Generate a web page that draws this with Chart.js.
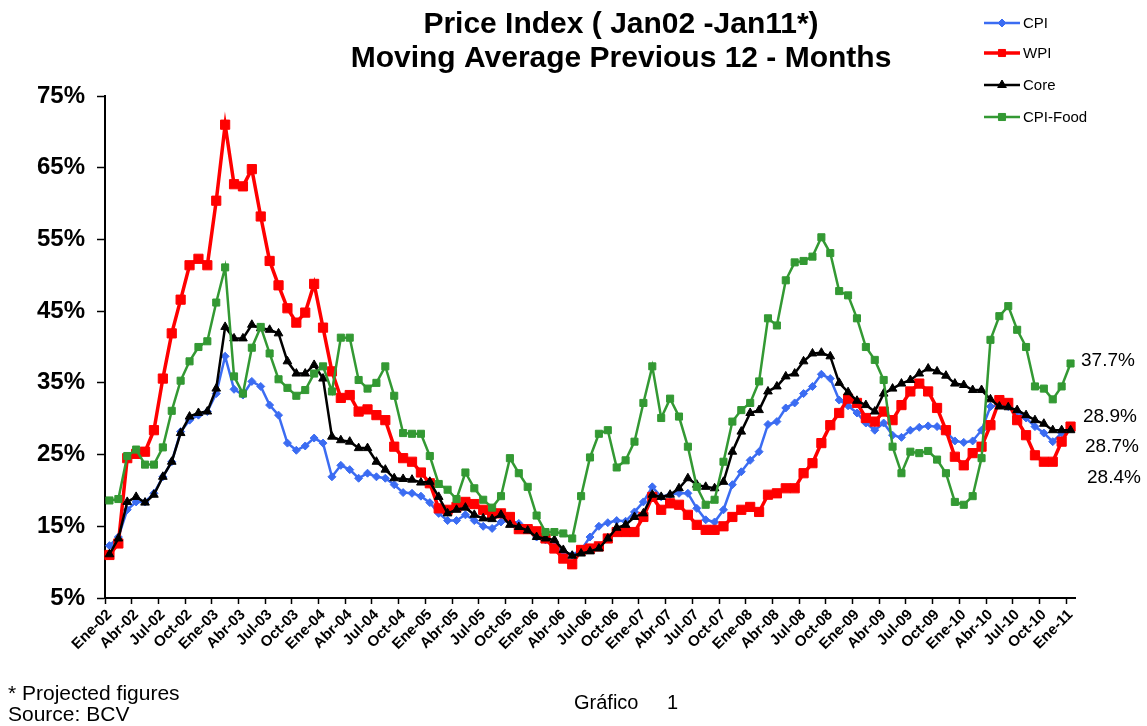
<!DOCTYPE html>
<html>
<head>
<meta charset="utf-8">
<script src="https://cdn.jsdelivr.net/npm/chart.js@4/dist/chart.umd.min.js"></script>
<style>
html,body{margin:0;padding:0;background:#ffffff;}
#wrap{width:1147px;height:726px;position:relative;}
</style>
</head>
<body>
<div id="wrap"><canvas id="c" width="1147" height="726"></canvas></div>
<script>
// ---------- DATA ----------
const categories = [
 'Ene-02','Feb-02','Mar-02','Abr-02','May-02','Jun-02','Jul-02','Ago-02','Sep-02','Oct-02','Nov-02','Dic-02',
 'Ene-03','Feb-03','Mar-03','Abr-03','May-03','Jun-03','Jul-03','Ago-03','Sep-03','Oct-03','Nov-03','Dic-03',
 'Ene-04','Feb-04','Mar-04','Abr-04','May-04','Jun-04','Jul-04','Ago-04','Sep-04','Oct-04','Nov-04','Dic-04',
 'Ene-05','Feb-05','Mar-05','Abr-05','May-05','Jun-05','Jul-05','Ago-05','Sep-05','Oct-05','Nov-05','Dic-05',
 'Ene-06','Feb-06','Mar-06','Abr-06','May-06','Jun-06','Jul-06','Ago-06','Sep-06','Oct-06','Nov-06','Dic-06',
 'Ene-07','Feb-07','Mar-07','Abr-07','May-07','Jun-07','Jul-07','Ago-07','Sep-07','Oct-07','Nov-07','Dic-07',
 'Ene-08','Feb-08','Mar-08','Abr-08','May-08','Jun-08','Jul-08','Ago-08','Sep-08','Oct-08','Nov-08','Dic-08',
 'Ene-09','Feb-09','Mar-09','Abr-09','May-09','Jun-09','Jul-09','Ago-09','Sep-09','Oct-09','Nov-09','Dic-09',
 'Ene-10','Feb-10','Mar-10','Abr-10','May-10','Jun-10','Jul-10','Ago-10','Sep-10','Oct-10','Nov-10','Dic-10',
 'Ene-11'
];

const cpi = [
 12.3, 13.5, 17.3, 18.4, 18.4, 19.6, 21.9, 24.0, 28.2, 29.8, 30.5, 31.0,
 33.5, 38.7, 34.1, 33.3, 35.2, 34.5, 31.9, 30.5, 26.6, 25.6, 26.2, 27.3,
 26.6, 21.9, 23.5, 22.9, 21.7, 22.4, 21.9, 21.7, 20.8, 19.7, 19.6, 19.2,
 18.3, 16.8, 15.8, 15.8, 16.6, 15.8, 15.0, 14.7, 15.6, 15.8, 15.4, 14.5,
 13.5, 13.1, 12.2, 11.5, 11.0, 11.7, 13.5, 15.0, 15.5, 15.8, 15.7, 17.0,
 18.4, 20.5, 19.1, 19.4, 19.6, 19.6, 17.5, 15.9, 15.6, 17.3, 20.8, 22.6,
 24.2, 25.4, 29.2, 29.6, 31.5, 32.2, 33.5, 34.5, 36.2, 35.6, 32.6, 31.8,
 30.8, 29.4, 28.4, 29.4, 27.7, 27.4, 28.4, 28.8, 29.0, 28.9, 28.2, 26.9,
 26.7, 26.9, 28.4, 31.7, 31.9, 31.7, 31.0, 30.1, 28.9, 28.0, 26.8, 28.0,
 28.7
];

const wpi = [
 11.0, 12.6, 24.5, 25.1, 25.4, 28.4, 35.6, 41.9, 46.6, 51.4, 52.3, 51.4,
 60.4, 71.0, 62.7, 62.4, 64.8, 58.2, 52.0, 48.6, 45.4, 43.4, 44.8, 48.8,
 42.7, 36.6, 32.9, 33.3, 31.0, 31.3, 30.5, 29.8, 26.1, 24.5, 24.0, 22.5,
 21.0, 17.5, 17.3, 17.7, 18.4, 18.1, 17.3, 16.8, 16.8, 16.3, 14.6, 14.6,
 14.3, 13.3, 11.9, 10.5, 9.7, 11.7, 11.9, 12.2, 13.3, 14.2, 14.2, 14.2,
 16.3, 19.1, 17.3, 18.2, 18.0, 16.6, 15.2, 14.5, 14.5, 15.0, 16.3, 17.3,
 17.7, 17.0, 19.4, 19.6, 20.3, 20.3, 22.4, 23.8, 26.6, 29.1, 30.8, 32.8,
 32.2, 30.1, 29.6, 31.0, 29.8, 31.9, 33.8, 34.9, 33.8, 31.5, 28.4, 24.7,
 23.5, 25.2, 26.1, 29.1, 32.6, 32.2, 29.8, 27.7, 24.9, 24.0, 24.0, 26.8,
 28.9
];

const core = [
 11.1, 13.3, 18.4, 19.1, 18.3, 19.4, 21.9, 24.0, 28.0, 30.3, 30.8, 31.0,
 34.2, 42.8, 41.2, 41.2, 43.1, 42.6, 42.4, 41.9, 38.0, 36.3, 36.3, 37.5,
 35.6, 27.5, 27.0, 26.8, 25.9, 25.9, 24.0, 22.9, 21.7, 21.6, 21.5, 21.1,
 21.2, 19.1, 16.8, 17.3, 17.6, 16.6, 16.1, 16.0, 16.6, 15.2, 14.9, 14.4,
 13.5, 13.3, 13.1, 11.7, 10.9, 11.2, 11.5, 11.9, 13.3, 14.8, 15.2, 16.3,
 16.8, 19.4, 19.1, 19.4, 20.3, 21.7, 20.8, 20.5, 20.3, 21.2, 25.4, 28.2,
 30.8, 31.2, 33.8, 34.5, 35.9, 36.3, 38.0, 39.1, 39.2, 38.7, 35.0, 33.7,
 32.5, 31.9, 31.0, 33.5, 34.2, 34.9, 35.4, 36.3, 37.0, 36.6, 36.0, 34.9,
 34.7, 34.0, 34.0, 32.7, 31.7, 31.6, 31.2, 30.5, 29.8, 29.3, 28.4, 28.4,
 28.4
];

const cpiFood = [
 18.6, 18.8, 24.8, 25.7, 23.6, 23.6, 26.0, 31.1, 35.3, 38.0, 40.0, 40.8,
 46.2, 51.1, 35.9, 33.5, 39.9, 42.8, 39.1, 35.5, 34.3, 33.2, 34.0, 36.3,
 37.3, 33.8, 41.3, 41.3, 35.4, 34.2, 35.0, 37.3, 33.2, 28.0, 27.9, 27.9,
 24.8, 20.9, 20.1, 18.8, 22.5, 20.3, 18.7, 17.6, 19.2, 24.5, 22.4, 20.5,
 16.5, 14.2, 14.2, 14.0, 13.3, 19.2, 24.6, 27.9, 28.4, 23.2, 24.2, 26.8,
 32.2, 37.3, 30.1, 32.8, 30.3, 26.1, 20.5, 18.0, 18.7, 24.0, 29.6, 31.2,
 32.2, 35.2, 44.0, 43.0, 49.3, 51.8, 52.0, 52.6, 55.3, 53.1, 47.8, 47.2,
 44.0, 40.0, 38.2, 35.4, 26.1, 22.4, 25.4, 25.2, 25.5, 24.3, 22.4, 18.4,
 18.0, 19.2, 24.5, 41.0, 44.3, 45.7, 42.4, 40.0, 34.5, 34.2, 32.7, 34.5,
 37.7
];

const seriesNames = ['CPI', 'WPI', 'Core', 'CPI-Food'];
const yMin = 5, yMax = 75, yStep = 10;
const endLabels = ['37.7%', '28.9%', '28.7%', '28.4%'];
const titleLines = ['Price Index ( Jan02 -Jan11*)', 'Moving Average Previous 12 - Months'];
const footNotes = ['* Projected figures', 'Source: BCV'];
const chartNumber = ['Gráfico', '1'];

// ---------- STYLE ----------
const FONT = "'Liberation Sans', Arial, Helvetica, sans-serif";
const styles = [
  {color: '#3b6cf2', pointStyle: 'rectRot', radius: 4, width: 2.5},
  {color: '#ff0000', pointStyle: 'rect', radius: 6.5, width: 3.5},
  {color: '#000000', pointStyle: 'triangle', radius: 5, width: 2.5},
  {color: '#339933', pointStyle: 'rect', radius: 5, width: 2.5}
];
const seriesData = [cpi, wpi, core, cpiFood];
const drawOrder = [3, 2, 1, 0]; // CPI at bottom, CPI-Food on top

const datasets = seriesNames.map((name, k) => ({
  label: name,
  data: seriesData[k],
  borderColor: styles[k].color,
  backgroundColor: styles[k].color,
  borderWidth: styles[k].width,
  pointStyle: styles[k].pointStyle,
  pointRadius: styles[k].radius,
  pointBorderWidth: 1,
  pointBorderColor: styles[k].color,
  pointBackgroundColor: styles[k].color,
  tension: 0,
  fill: false,
  order: drawOrder[k]
}));

const decor = {
  id: 'decor',
  afterDraw(chart) {
    const ctx = chart.ctx;
    ctx.save();
    ctx.fillStyle = '#000';
    // title
    ctx.font = 'bold 30px ' + FONT;
    ctx.textAlign = 'center';
    ctx.textBaseline = 'middle';
    ctx.fillText(titleLines[0], 621, 25);
    ctx.fillText(titleLines[1], 621, 59);

    // legend
    const legY = [23, 53, 85, 117];
    ctx.font = '15px ' + FONT;
    ctx.textAlign = 'left';
    ctx.textBaseline = 'middle';
    seriesNames.forEach((name, k) => {
      const y = legY[k];
      ctx.strokeStyle = styles[k].color;
      ctx.lineWidth = styles[k].width;
      ctx.beginPath();
      ctx.moveTo(984, y);
      ctx.lineTo(1020, y);
      ctx.stroke();
      ctx.fillStyle = styles[k].color;
      ctx.lineWidth = 1;
      Chart.helpers.drawPoint(ctx, {pointStyle: styles[k].pointStyle, rotation: 0, radius: Math.min(styles[k].radius, 5), borderWidth: 1}, 1002, y);
      ctx.fillStyle = '#000';
      ctx.fillText(name, 1023, y + 1);
    });

    // end value labels
    ctx.font = '19px ' + FONT;
    const endPos = [[1081, 361], [1083, 417], [1085, 447], [1087, 478]];
    endLabels.forEach((t, k) => ctx.fillText(t, endPos[k][0], endPos[k][1]));

    // footer
    ctx.font = '21px ' + FONT;
    ctx.textBaseline = 'alphabetic';
    ctx.fillText(footNotes[0], 8, 700);
    ctx.fillText(footNotes[1], 8, 721);
    ctx.font = '20px ' + FONT;
    ctx.fillText(chartNumber[0], 574, 709);
    ctx.fillText(chartNumber[1], 667, 709);
    ctx.restore();
  }
};

new Chart(document.getElementById('c'), {
  type: 'line',
  data: {labels: categories, datasets: datasets},
  options: {
    responsive: false,
    animation: false,
    devicePixelRatio: 1,
    layout: {padding: {top: 96, right: 72, left: 0, bottom: 0}},
    plugins: {legend: {display: false}, title: {display: false}, tooltip: {enabled: false}},
    scales: {
      x: {
        type: 'category',
        offset: true,
        grid: {
          display: true, drawOnChartArea: false, drawTicks: true, tickLength: 6, offset: true,
          tickColor: (c) => (c.index % 3 === 0 ? '#000' : 'rgba(0,0,0,0)'), tickWidth: 1.5
        },
        border: {display: true, color: '#000', width: 2},
        ticks: {
          autoSkip: false, maxRotation: 45, minRotation: 45, padding: 2, color: '#000',
          font: {family: FONT, weight: 'bold', size: 15},
          callback: (v, i) => (i % 3 === 0 ? categories[i] : '')
        },
        afterFit: (s) => { s.height = 128; }
      },
      y: {
        min: yMin, max: yMax,
        ticks: {
          stepSize: yStep, padding: 12, color: '#000',
          font: {family: FONT, weight: 'bold', size: 24},
          callback: (v) => v + '%'
        },
        grid: {display: true, drawOnChartArea: false, drawTicks: true, tickLength: 8, tickColor: '#000', tickWidth: 1.5},
        border: {display: true, color: '#000', width: 2},
        afterFit: (s) => { s.width = 105; }
      }
    }
  },
  plugins: [decor]
});
</script>
</body>
</html>
